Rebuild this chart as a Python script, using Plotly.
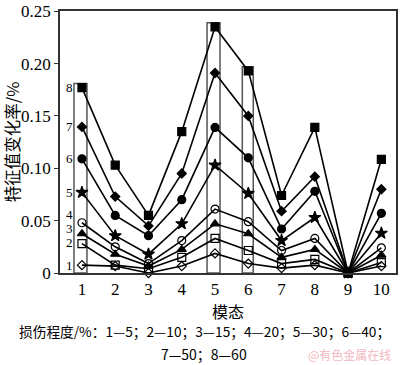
import plotly.graph_objects as go

modes = [1, 2, 3, 4, 5, 6, 7, 8, 9, 10]
s1 = [0.0075, 0.0066, 0.0, 0.0066, 0.0187, 0.009, 0.0047, 0.0075, 0.0, 0.0066]
s2 = [0.028, 0.0075, 0.004, 0.015, 0.033, 0.0215, 0.009, 0.013, 0.0, 0.010]
s3 = [0.0375, 0.018, 0.0066, 0.0225, 0.047, 0.0375, 0.015, 0.0225, 0.0, 0.017]
s4 = [0.048, 0.025, 0.009, 0.031, 0.061, 0.049, 0.0215, 0.033, 0.0, 0.024]
s5 = [0.077, 0.0356, 0.018, 0.047, 0.103, 0.076, 0.031, 0.053, 0.0, 0.038]
s6 = [0.109, 0.055, 0.0356, 0.070, 0.139, 0.110, 0.042, 0.078, 0.0, 0.057]
s7 = [0.1395, 0.073, 0.045, 0.095, 0.191, 0.150, 0.059, 0.092, 0.0, 0.080]
s8 = [0.177, 0.103, 0.055, 0.135, 0.235, 0.193, 0.074, 0.139, 0.0, 0.1086]
series = [s1, s2, s3, s4, s5, s6, s7, s8]
series_labels = ["1", "2", "3", "4", "5", "6", "7", "8"]
symbols = ["diamond-open", "square-open", "triangle-up", "circle-open",
           "star", "circle", "diamond", "square"]
sizes = [7, 8, 8, 8, 9, 8, 7, 8]
highlight_modes = [1, 5, 6]
y_ticks = [0, 0.05, 0.10, 0.15, 0.20, 0.25]
y_tick_text = ["0", "0.05", "0.10", "0.15", "0.20", "0.25"]

serif = "Liberation Serif, Times New Roman, serif"
cjk = "Noto Sans CJK SC, sans-serif"

fig = go.Figure()
for s, sym, sz in zip(series, symbols, sizes):
    fig.add_trace(go.Scatter(
        x=modes, y=s, mode="lines+markers",
        line=dict(color="black", width=1.6),
        marker=dict(symbol=sym, size=sz, color="black",
                    line=dict(color="black", width=1.2)),
        showlegend=False, cliponaxis=False))

shapes = []
for m in highlight_modes:
    top = max(s[m - 1] for s in series) + 0.004
    left = m - 0.24 if m != 6 else m - 0.18
    shapes.append(dict(type="rect", xref="x", yref="y", x0=left, x1=m + 0.15,
                       y0=0, y1=top, line=dict(color="#555", width=1.5),
                       layer="below"))

annotations = []
label_shift = [0, 1, 5, 8, 0, 0, 0, 0]
for lab, s, sh in zip(series_labels, series, label_shift):
    annotations.append(dict(x=1, y=s[0], xref="x", yref="y", text=lab,
                            showarrow=False, xshift=-12, yshift=sh, borderpad=0,
                            font=dict(family=serif, size=13, color="black")))
annotations.append(dict(x=0.43, y=-0.222, xref="paper", yref="paper",
                        text="损伤程度/%：1—5；2—10；3—15；4—20；5—30；6—40；",
                        showarrow=False, xanchor="center", yanchor="middle",
                        font=dict(family=cjk, size=13.7, color="black")))
annotations.append(dict(x=0.43, y=-0.31, xref="paper", yref="paper",
                        text="7—50；8—60", showarrow=False, xanchor="center",
                        yanchor="middle",
                        font=dict(family=cjk, size=14, color="black")))
annotations.append(dict(x=0.99, y=-0.31, xref="paper", yref="paper",
                        text="@有色金属在线", showarrow=False, xanchor="right",
                        yanchor="middle",
                        font=dict(family=cjk, size=12, color="#f2b8c0")))

fig.update_layout(
    width=400, height=365,
    margin=dict(l=60, r=2, t=5, b=92),
    paper_bgcolor="white", plot_bgcolor="white",
    shapes=shapes, annotations=annotations,
    xaxis=dict(range=[0.34, 10.44], tickvals=modes, ticktext=[str(m) for m in modes],
               showgrid=False, zeroline=False, showline=True, mirror=True,
               linecolor="#333", linewidth=1.5, ticks="",
               tickfont=dict(family=serif, size=17, color="black"),
               title=dict(text="模态", font=dict(family=cjk, size=16, color="black"),
                          standoff=0)),
    yaxis=dict(range=[0, 0.2502], tickvals=y_ticks, ticktext=y_tick_text,
               showgrid=False, zeroline=False, showline=True, mirror=True,
               linecolor="#333", linewidth=1.5, ticks="outside", ticklen=4,
               tickcolor="#333", ticklabeloverflow="allow",
               tickfont=dict(family=serif, size=17, color="black"),
               title=dict(text="特征值变化率/%", font=dict(family=cjk, size=16.5, color="black"),
                          standoff=2)),
)

fig.write_html("out.html", config={"displayModeBar": False},
               post_script="document.body.style.margin='0';")
